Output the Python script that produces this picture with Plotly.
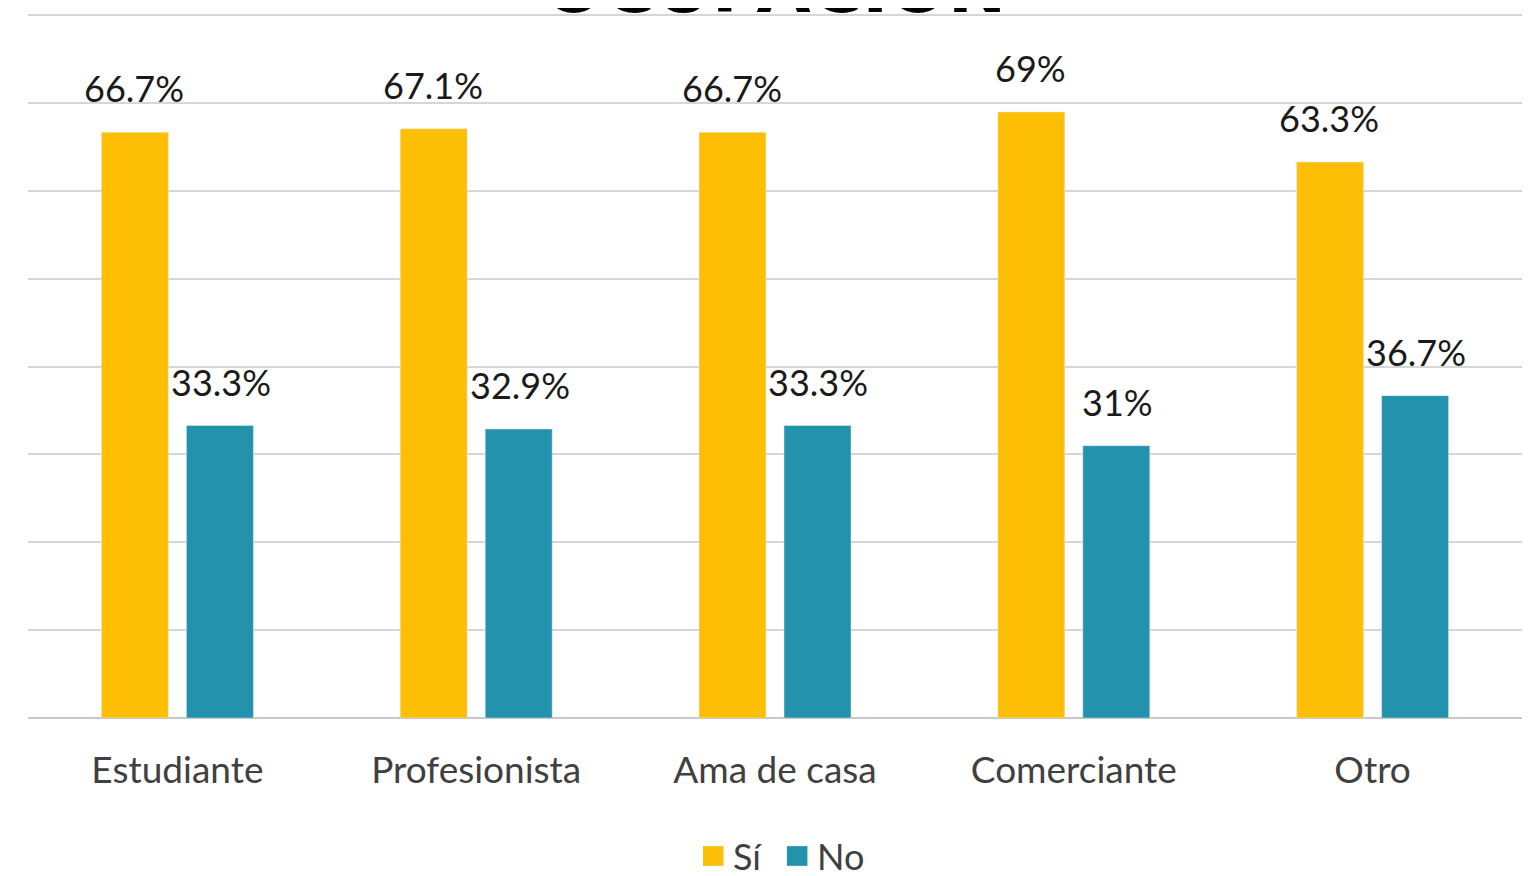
import plotly.graph_objects as go

categorias = ['Estudiante', 'Profesionista', 'Ama de casa', 'Comerciante', 'Otro']
series = ['Sí', 'No']
si = [66.7, 67.1, 66.7, 69, 63.3]
no = [33.3, 32.9, 33.3, 31, 36.7]
etiquetas_si = ['66.7%', '67.1%', '66.7%', '69%', '63.3%']
etiquetas_no = ['33.3%', '32.9%', '33.3%', '31%', '36.7%']

amarillo = '#FDBF06'
azul = '#2292AD'
fuente = 'Lato, Noto Sans, sans-serif'

fig = go.Figure()
fig.add_trace(go.Bar(x = categorias, y = si, name = series[0], marker = dict(color = amarillo),
                     hoverinfo = 'skip'))
fig.add_trace(go.Bar(x = categorias, y = no, name = series[1], marker = dict(color = azul),
                     hoverinfo = 'skip'))

# etiquetas de datos, un poco separadas de las barras
anotaciones = []
for i, cat in enumerate(categorias):
    for serie, textos, off in [(si, etiquetas_si, -0.145), (no, etiquetas_no, 0.145)]:
        anotaciones.append(dict(
            x = i + off, y = serie[i], xref = 'x', yref = 'y',
            text = textos[i], showarrow = False,
            yanchor = 'bottom', yshift = 20,
            font = dict(family = fuente, size = 36, color = '#1a1a1a')
        ))

# titulo (cortado arriba como en la imagen original)
anotaciones.append(dict(
    x = 0.5, y = 1, xref = 'paper', yref = 'paper',
    text = '<b>OCUPACIÓN</b>', showarrow = False,
    yanchor = 'bottom', yshift = -17,
    font = dict(family = 'DejaVu Sans', size = 70, color = 'black')
))

# leyenda hecha a mano, con cuadros grandes
formas = []
for nombre, color, x0 in [(series[0], amarillo, 0.4518), (series[1], azul, 0.5080)]:
    formas.append(dict(type = 'rect', xref = 'paper', yref = 'paper',
                       x0 = x0, x1 = x0 + 0.0137, y0 = -0.210, y1 = -0.182,
                       fillcolor = color, line = dict(width = 0)))
    anotaciones.append(dict(
        x = x0 + 0.0185, y = -0.196, xref = 'paper', yref = 'paper',
        text = nombre, showarrow = False, xanchor = 'left', yanchor = 'middle',
        font = dict(family = fuente, size = 36, color = '#404040')
    ))

fig.update_layout(
    width = 1537, height = 876,
    margin = dict(l = 20, r = 23, t = 6, b = 166, autoexpand = False),
    plot_bgcolor = 'white',
    paper_bgcolor = 'white',
    barmode = 'group',
    bargap = 0.431,
    bargroupgap = 0.212,
    annotations = anotaciones,
    shapes = formas,
    showlegend = False,
    font = dict(family = fuente, color = '#404040')
)

fig.update_yaxes(range = [0, 80.15], tickvals = [0, 10, 20, 30, 40, 50, 60, 70, 80],
                 showticklabels = False,
                 gridcolor = '#d6d6d6', gridwidth = 2, zeroline = True,
                 zerolinecolor = '#c8c8c8', zerolinewidth = 2, fixedrange = True)
fig.update_xaxes(tickfont = dict(family = fuente, size = 37, color = '#404040'),
                 ticks = '', ticklabelstandoff = 27, fixedrange = True, automargin = False)

fig.write_html("out.html")
